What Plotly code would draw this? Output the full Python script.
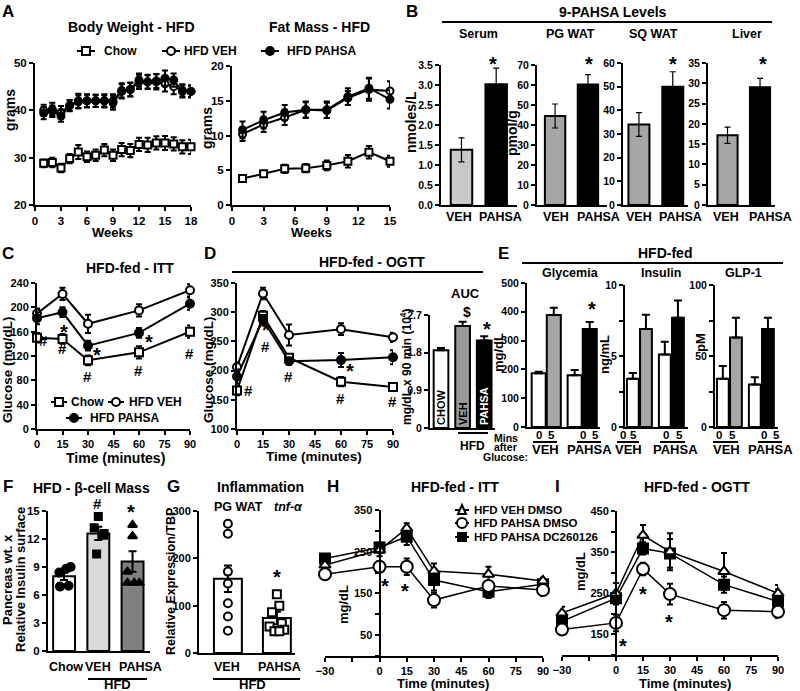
import plotly.graph_objects as go

# ---------------- A: body weight / fat mass ----------------
bw_weeks = [1, 2, 3, 4, 5, 6, 7, 8, 9, 10, 11, 12, 13, 14, 15, 16, 17, 18]
bw_chow = [28.8, 29.0, 27.8, 29.8, 31.2, 30.2, 30.5, 31.6, 30.5, 31.7, 31.5, 32.8, 32.7, 33.1, 33.1, 32.9, 32.3, 32.3]
bw_chow_err = [0.8, 1.0, 0.9, 1.0, 1.5, 1.1, 1.2, 1.3, 1.2, 1.4, 1.4, 1.4, 1.5, 1.4, 1.5, 1.4, 1.4, 1.5]
bw_veh = [40.0, 40.2, 39.6, 41.0, 42.0, 42.0, 42.0, 42.0, 41.6, 44.0, 44.4, 46.0, 46.0, 46.0, 45.6, 45.0, 44.2, 44.0]
bw_veh_err = [1.2, 1.4, 1.3, 1.2, 1.5, 1.4, 1.3, 1.4, 1.5, 1.5, 1.4, 1.5, 1.5, 1.6, 1.6, 1.6, 1.3, 1.3]
bw_pahsa = [39.4, 39.8, 38.8, 41.0, 41.8, 42.0, 42.0, 42.0, 42.0, 44.2, 44.4, 46.4, 46.0, 46.2, 46.8, 46.4, 44.0, 44.0]
bw_pahsa_err = [1.3, 1.2, 1.2, 1.1, 1.4, 1.3, 1.3, 1.2, 1.4, 1.5, 1.5, 1.4, 1.4, 1.5, 1.6, 1.4, 1.3, 1.2]

fm_weeks = [1, 3, 5, 7, 9, 11, 13, 15]
fm_chow = [3.8, 4.5, 5.2, 5.3, 5.7, 6.3, 7.6, 6.3]
fm_chow_err = [0.3, 0.4, 0.6, 0.6, 0.7, 0.9, 0.9, 0.8]
fm_veh = [10.2, 11.6, 12.6, 13.7, 13.6, 15.4, 16.6, 16.4]
fm_veh_err = [1.0, 1.1, 1.1, 1.1, 1.1, 1.0, 1.6, 1.4]
fm_pahsa = [10.8, 12.2, 13.3, 13.7, 13.7, 15.6, 16.8, 15.2]
fm_pahsa_err = [1.2, 1.2, 1.1, 1.2, 1.2, 1.2, 1.5, 1.3]

# ---------------- B: 9-PAHSA levels ----------------
b_groups = ['VEH', 'PAHSA']
serum = [1.38, 3.02]
serum_err = [0.3, 0.4]
pgwat = [44.5, 60.2]
pgwat_err = [6.0, 5.0]
sqwat = [34.0, 50.0]
sqwat_err = [5.0, 6.3]
liver = [17.2, 29.0]
liver_err = [2.0, 2.2]

# ---------------- C: ITT ----------------
itt_time = [0, 15, 30, 60, 90]
itt_chow = [150, 148, 113, 126, 160]
itt_chow_err = [8, 8, 8, 10, 10]
itt_veh = [190, 222, 173, 195, 228]
itt_veh_err = [8, 10, 15, 10, 10]
itt_pahsa = [182, 192, 137, 158, 206]
itt_pahsa_err = [10, 8, 8, 8, 10]

# ---------------- D: OGTT + AUC ----------------
ogtt_time = [0, 15, 30, 60, 90]
ogtt_chow = [166, 294, 222, 181, 172]
ogtt_chow_err = [8, 8, 6, 8, 6]
ogtt_veh = [206, 332, 261, 271, 257]
ogtt_veh_err = [8, 10, 18, 10, 8]
ogtt_pahsa = [190, 287, 216, 218, 223]
ogtt_pahsa_err = [12, 8, 6, 12, 12]
auc_groups = ['CHOW', 'VEH', 'PAHSA']
auc = [1.86, 2.44, 2.09]
auc_err = [0.05, 0.1, 0.1]

# ---------------- E: HFD-fed hormones ----------------
e_groups = ['VEH', 'PAHSA']
e_mins = ['0', '5']
glyc_0 = [187, 180]
glyc_0_err = [5, 18]
glyc_5 = [389, 340]
glyc_5_err = [25, 25]
ins_0 = [3.4, 5.1]
ins_0_err = [0.4, 0.9]
ins_5 = [6.9, 7.7]
ins_5_err = [1.0, 1.2]
glp_0 = [34, 30]
glp_0_err = [9, 5]
glp_5 = [63, 69]
glp_5_err = [14, 8]

# ---------------- F: beta-cell mass ----------------
f_groups = ['Chow', 'VEH', 'PAHSA']
f_mean = [8.0, 12.6, 9.6]
f_err = [0.4, 0.7, 1.1]
f_chow_pts = [8.4, 8.8, 9.0, 6.9, 7.0]
f_veh_pts = [14.4, 13.2, 12.6, 12.4, 10.4]
f_pahsa_pts = [13.5, 12.3, 8.5, 7.3, 7.3, 7.3]

# ---------------- G: inflammation ----------------
g_groups = ['VEH', 'PAHSA']
g_mean = [157, 74]
g_err = [28, 13]
g_veh_pts = [273, 252, 172, 147, 105, 77, 47]
g_pahsa_pts = [124, 100, 86, 63, 56, 49, 46, 46]

# ---------------- H / I: ITT / OGTT with DC260126 ----------------
hi_time = [-30, 0, 15, 30, 60, 90]
hi_ticks = [-30, 0, 15, 30, 45, 60, 75, 90]
h_veh = [218, 254, 306, 204, 196, 180]
h_veh_err = [12, 15, 12, 18, 18, 8]
h_pahsa = [196, 214, 214, 134, 168, 158]
h_pahsa_err = [10, 12, 20, 18, 12, 14]
h_dc = [234, 260, 286, 182, 154, 172]
h_dc_err = [10, 12, 20, 25, 15, 10]
i_veh = [202, 250, 391, 351, 303, 250]
i_veh_err = [15, 25, 25, 45, 45, 20]
i_pahsa = [162, 178, 309, 248, 209, 205]
i_pahsa_err = [12, 20, 15, 25, 20, 15]
i_dc = [182, 238, 359, 347, 271, 230]
i_dc_err = [15, 15, 15, 35, 20, 30]

W, H = 800, 691
FONT = 'Liberation Sans, Arial, sans-serif'

fig = go.Figure()
lay = {}
ann = []
shp = []
count = [0]


def tf(size):
    return dict(family=FONT, size=size, color='black', weight='bold')


def minor(dtick, tick0=0):
    return dict(dtick=dtick, tick0=tick0, ticks='outside', ticklen=4, tickwidth=2,
                tickcolor='black', showgrid=False)


def new_axes(x0, x1, y0, y1, xr, yr, xkw=None, ykw=None, fs=11.5):
    count[0] += 1
    s = '' if count[0] == 1 else str(count[0])
    base = dict(showline=True, linewidth=2, linecolor='black', ticks='outside',
                ticklen=4, tickwidth=2, tickcolor='black', showgrid=False,
                zeroline=False, fixedrange=True, tickfont=tf(fs),
                automargin=False, tickangle=0)
    xa = dict(base, domain=[x0 / W, x1 / W], range=xr, anchor='y' + s)
    ya = dict(base, domain=[1 - y1 / H, 1 - y0 / H], range=yr, anchor='x' + s)
    xa.update(xkw or {})
    ya.update(ykw or {})
    lay['xaxis' + s] = xa
    lay['yaxis' + s] = ya
    return 'x' + s, 'y' + s


def txt(s, x, y, size=12, angle=0, xanchor='center', italic=False, color='black'):
    f = tf(size)
    f['color'] = color
    if italic:
        f['style'] = 'italic'
    ann.append(dict(text=s, x=x / W, y=1 - y / H, xref='paper', yref='paper',
                    showarrow=False, textangle=angle, xanchor=xanchor,
                    yanchor='middle', font=f))


def star(x, y, size=20):
    txt('*', x, y + 4, size)


def hline(x0, x1, y, w=2):
    shp.append(dict(type='line', xref='paper', yref='paper', x0=x0 / W, x1=x1 / W,
                    y0=1 - y / H, y1=1 - y / H, line=dict(color='black', width=w)))


def glyph(xc, y, kind, fill, half=9, r=4):
    hline(xc - half, xc + half, y)
    x0, x1 = (xc - r) / W, (xc + r) / W
    y0, y1 = 1 - (y + r) / H, 1 - (y - r) / H
    if kind == 'triangle':
        path = 'M %f,%f L %f,%f L %f,%f Z' % (x0, y0, x1, y0, xc / W, 1 - (y - r - 1) / H)
        shp.append(dict(type='path', xref='paper', yref='paper', path=path,
                        fillcolor=fill, line=dict(color='black', width=2)))
    else:
        shp.append(dict(type='rect' if kind == 'square' else 'circle', xref='paper',
                        yref='paper', x0=x0, x1=x1, y0=y0, y1=y1, fillcolor=fill,
                        line=dict(color='black', width=2)))


def series(x, y, err, ax, symbol, fill, size=8, lw=2):
    fig.add_trace(go.Scatter(
        x=x, y=y, xaxis=ax[0], yaxis=ax[1], mode='lines+markers',
        line=dict(color='black', width=lw),
        marker=dict(symbol=symbol, size=size, color=fill, line=dict(color='black', width=2)),
        error_y=dict(type='data', array=err, color='black', thickness=2, width=3),
        cliponaxis=False, hoverinfo='skip', showlegend=False))


def bars(x, y, err, ax, color, width, offset=None, up_only=False, thick=2, ew=4, text=None):
    ey = dict(type='data', array=err, color='black', thickness=thick, width=ew)
    if up_only:
        ey.update(symmetric=False, arrayminus=[0 for _ in err])
    kw = {}
    if text is not None:
        kw = dict(text=text, textposition='inside', textangle=-90, insidetextanchor='start',
                  constraintext='none',
                  insidetextfont=dict(family=FONT, size=11, weight='bold',
                                      color=['black', 'black', 'white']))
    fig.add_trace(go.Bar(x=x, y=y, xaxis=ax[0], yaxis=ax[1], width=width, offset=offset,
                         marker=dict(color=color, line=dict(color='black', width=2)),
                         error_y=ey, hoverinfo='skip', showlegend=False, cliponaxis=False, **kw))


def dots(x, y, ax, symbol, fill, size=8):
    fig.add_trace(go.Scatter(x=x, y=y, xaxis=ax[0], yaxis=ax[1], mode='markers',
                             marker=dict(symbol=symbol, size=size, color=fill,
                                         line=dict(color='black', width=2)),
                             cliponaxis=False, hoverinfo='skip', showlegend=False))


# ===== A =====
txt('A', 8, 11, 17)
ax = new_axes(35, 191, 63, 205, [0, 18], [20, 50], dict(dtick=3, tick0=0), dict(dtick=10))
series(bw_weeks, bw_chow, bw_chow_err, ax, 'square', 'white', 7)
series(bw_weeks, bw_veh, bw_veh_err, ax, 'circle', 'white', 7)
series(bw_weeks, bw_pahsa, bw_pahsa_err, ax, 'circle', 'black', 7)
txt('Body Weight - HFD', 131, 27, 14)
txt('grams', 10, 110, 14, -90)
txt('Weeks', 113, 232, 13)

ax = new_axes(232, 390, 66, 205, [0, 15], [0, 20], dict(dtick=3, tick0=0), dict(dtick=5))
series(fm_weeks, fm_chow, fm_chow_err, ax, 'square', 'white', 7)
series(fm_weeks, fm_veh, fm_veh_err, ax, 'circle', 'white', 7)
series(fm_weeks, fm_pahsa, fm_pahsa_err, ax, 'circle', 'black', 7)
txt('Fat Mass - HFD', 319, 27, 14)
txt('grams', 207, 128, 14, -90)
txt('Weeks', 311, 232, 13)

glyph(86, 51, 'square', 'white')
txt('Chow', 102, 51, 12, xanchor='left')
glyph(171, 51, 'circle', 'white')
txt('HFD VEH', 182, 51, 12, xanchor='left')
glyph(270, 51, 'circle', 'black')
txt('HFD PAHSA', 285, 51, 12, xanchor='left')

# ===== B =====
txt('B', 412, 11, 17)
txt('9-PAHSA Levels', 613, 12, 14)
hline(442, 772, 22)
bx = dict(type='category', ticks='', showticklabels=False)
ax = new_axes(441, 517, 65, 205, [-0.59, 1.6], [0, 3.5], bx, dict(dtick=0.5, tickformat='.1f'), 10.5)
bars(b_groups, serum, serum_err, ax, ['#c8c8c8', 'black'], 0.62, thick=1.2, ew=3)
ax = new_axes(537, 607, 65, 205, [-0.55, 1.58], [0, 70], bx, dict(dtick=10), 10.5)
bars(b_groups, pgwat, pgwat_err, ax, ['#a5a5a5', 'black'], 0.62, thick=1.2, ew=3)
ax = new_axes(623, 688, 63, 205, [-0.47, 1.45], [0, 60], bx, dict(dtick=10), 10.5)
bars(b_groups, sqwat, sqwat_err, ax, ['#a5a5a5', 'black'], 0.62, thick=1.2, ew=3)
ax = new_axes(708, 775, 63, 205, [-0.6, 1.46], [0, 35], bx, dict(dtick=5), 10.5)
bars(b_groups, liver, liver_err, ax, ['#a5a5a5', 'black'], 0.62, thick=1.2, ew=3)
for xv, xp in [(459, 500), (556, 598), (639, 680), (726, 770)]:
    txt(b_groups[0], xv, 217, 12.5)
    txt(b_groups[1], xp, 217, 12.5)
for name, xc in [('Serum', 478), ('PG WAT', 570), ('SQ WAT', 653), ('Liver', 747)]:
    txt(name, xc, 34, 12.5)
for xc in [493, 589, 673, 763]:
    star(xc, 60)
txt('nmoles/L', 411, 122, 14, -90)
txt('pmol/g', 512, 133, 14, -90)

# ===== C =====
txt('C', 8, 254, 17)
ax = new_axes(37, 190, 283, 429, [0, 90], [0, 240], dict(dtick=15, tick0=0), dict(dtick=40), 11)
series(itt_time, itt_chow, itt_chow_err, ax, 'square', 'white', 8)
series(itt_time, itt_veh, itt_veh_err, ax, 'circle', 'white', 8)
series(itt_time, itt_pahsa, itt_pahsa_err, ax, 'circle', 'black', 8)
txt('HFD-fed - ITT', 130, 268, 14)
txt('Glucose (mg/dL)', 7, 370, 13.5, -90)
txt('Time (minutes)', 116, 458, 14)
for xc, yc in [(43, 340), (62, 348), (87, 376), (138, 370), (189, 353)]:
    txt('#', xc, yc, 15)
for xc, yc in [(64, 328), (97, 351), (149, 338)]:
    star(xc, yc)
glyph(59, 402, 'square', 'white', half=8)
txt('Chow', 69, 402, 12, xanchor='left')
glyph(116, 402, 'circle', 'white', half=8)
txt('HFD VEH', 127, 402, 12, xanchor='left')
glyph(74, 418, 'circle', 'black', half=8)
txt('HFD PAHSA', 88, 418, 12, xanchor='left')

# ===== D =====
txt('D', 210, 254, 17)
txt('HFD-fed - OGTT', 372, 262, 14)
hline(232, 483, 272)
ax = new_axes(237, 393, 283, 429, [0, 90], [100, 350], dict(dtick=15, tick0=0), dict(dtick=50), 11)
series(ogtt_time, ogtt_chow, ogtt_chow_err, ax, 'square', 'white', 8)
series(ogtt_time, ogtt_veh, ogtt_veh_err, ax, 'circle', 'white', 8)
series(ogtt_time, ogtt_pahsa, ogtt_pahsa_err, ax, 'circle', 'black', 8)
txt('Glucose (mg/dL)', 208, 370, 13.5, -90)
txt('Time (minutes)', 314, 457, 13.5)
for xc, yc in [(248, 390), (265, 346), (288, 377), (340, 398), (392, 402)]:
    txt('#', xc, yc, 15)
for xc, yc in [(266, 326), (350, 367)]:
    star(xc, yc)

ax = new_axes(430, 495, 315, 428, [-0.51, 2.5], [0, 2.7],
              dict(type='category', ticks='', showticklabels=False),
              dict(tickvals=[0, 0.9, 1.8, 2.7], ticktext=['0', '0.9', '1.8', '2.7']), 10.5)
bars(auc_groups, auc, auc_err, ax, ['white', '#999999', 'black'], 0.68, up_only=True,
     text=auc_groups)
txt('AUC', 465, 294, 13)
txt('$', 467, 312, 14)
star(487, 325)
txt('mg/dL x 90 min (10<sup>4</sup>)', 406, 367, 12, -90)
hline(458, 488, 433)
txt('HFD', 472, 446, 12)

# ===== E =====
txt('E', 503, 254, 17)
txt('HFD-fed', 665, 253, 14)
hline(522, 783, 263)
for name, xc in [('Glycemia', 570), ('Insulin', 661), ('GLP-1', 743)]:
    txt(name, xc, 273, 12.5)
ex = dict(type='category', ticks='', showticklabels=False)
panels_e = [
    ((527, 600, 283, 427, [-0.54, 1.49], [0, 500]), dict(dtick=100),
     glyc_0, glyc_0_err, glyc_5, glyc_5_err, 0.39, -0.41, 0.01),
    ((625, 688, 285, 427, [-0.45, 1.52], [0, 10]), dict(dtick=5, minor=minor(2.5)),
     ins_0, ins_0_err, ins_5, ins_5_err, 0.37, -0.39, 0.02),
    ((715, 778, 285, 427, [-0.45, 1.52], [0, 100]), dict(dtick=50, minor=minor(25)),
     glp_0, glp_0_err, glp_5, glp_5_err, 0.37, -0.39, 0.02),
]
for box, ykw, v0, e0, v5, e5, bw, o0, o5 in panels_e:
    ax = new_axes(*box, ex, ykw, 10.5)
    bars(e_groups, v0, e0, ax, 'white', bw, offset=o0, up_only=True)
    bars(e_groups, v5, e5, ax, ['#a6a6a6', 'black'], bw, offset=o5, up_only=True)
# group labels under E sub-panels (paper positions of each group block)
for gx in [(533, 557), (577, 601), (617, 639), (660, 685), (713, 738), (758, 782)]:
    x0, x1 = gx
    hline(x0, x1, 442)
    txt(e_mins[0], x0 + 6, 435, 11.5)
    txt(e_mins[1], x1 - 6, 435, 11.5)
for k, xc in enumerate([545, 589, 628, 675, 726, 770]):
    txt(e_groups[k % 2], xc, 449, 13)
star(592, 305)
txt('mg/dL', 498, 353, 13, -90)
txt('ng/mL', 604, 355, 13, -90)
txt('pM', 700, 343, 13, -90)
txt('Mins', 506, 438, 10.5)
txt('after', 506, 447, 10.5)
txt('Glucose:', 505, 457, 10.5)

# ===== F =====
txt('F', 8, 487, 17)
txt('HFD - β-cell Mass', 91, 488, 14)
ax = new_axes(48, 150, 511, 651, [-0.47, 2.51], [0, 15],
              dict(ticks='', showticklabels=False), dict(dtick=3))
bars([0, 1, 2], f_mean, f_err, ax, ['white', '#d9d9d9', '#808080'], 0.64)
dots([0 + d for d in [-0.14, 0.06, 0.19, -0.12, 0.13]], f_chow_pts, ax, 'circle', 'black', 8)
dots([1 + d for d in [0.0, -0.12, 0.17, 0.15, -0.05]], f_veh_pts, ax, 'square', 'black', 7)
dots([2 + d for d in [0.0, 0.0, -0.15, -0.15, 0.05, 0.2]], f_pahsa_pts, ax, 'triangle-up', 'black', 8)
for name, xc in zip(f_groups, [66, 98, 140]):
    txt(name, xc, 667, 12.5)
txt('#', 97, 503, 15)
star(131, 508)
txt('Pancreas wt. x', 7, 580, 13, -90)
txt('Relative Insulin surface', 20, 580, 13, -90)
hline(88, 147, 679)
txt('HFD', 117, 684, 13)

# ===== G =====
txt('G', 173, 487, 17)
txt('Inflammation', 260, 487, 14)
txt('PG WAT', 238, 507, 12.5)
txt('tnf-α', 288, 507, 12.5, italic=True)
ax = new_axes(199, 295, 511, 653, [-0.59, 1.37], [0, 300],
              dict(ticks='', showticklabels=False), dict(dtick=100), 11)
bars([0, 1], g_mean, g_err, ax, 'white', 0.57)
dots([0 for _ in g_veh_pts], g_veh_pts, ax, 'circle', 'white', 8)
dots([1 + d for d in [0.0, 0.05, -0.1, 0.1, -0.15, 0.15, -0.05, 0.05]], g_pahsa_pts, ax, 'square', 'white', 8)
for name, xc in zip(g_groups, [227, 279]):
    txt(name, xc, 667, 12.5)
star(277, 573)
txt('Relative Expression/TBP', 171, 582, 12.5, -90)
hline(213, 300, 679)
txt('HFD', 252, 684, 13)

# ===== H =====
txt('H', 333, 487, 17)
txt('HFD-fed - ITT', 455, 487, 14)
ax = new_axes(325, 543, 510, 656, [-30, 90], [0, 350],
              dict(tickvals=hi_ticks, minor=minor(15, -30)),
              dict(anchor='free', position=379.5 / W, tickvals=[50, 150, 250, 350], minor=minor(50)), 11)
series(hi_time, h_dc, h_dc_err, ax, 'square', 'black', 10, 1.5)
series(hi_time, h_veh, h_veh_err, ax, 'triangle-up', 'white', 10, 1.5)
series(hi_time, h_pahsa, h_pahsa_err, ax, 'circle', 'white', 12, 1.5)
for xc, yc in [(385, 582), (405, 587)]:
    star(xc, yc)
txt('mg/dL', 343, 605, 13, -90)
txt('Time (minutes)', 443, 683, 13)
glyph(462, 510, 'triangle', 'white', half=7)
txt('HFD VEH DMSO', 472, 510, 11.5, xanchor='left')
glyph(462, 523, 'circle', 'white', half=7, r=5)
txt('HFD PAHSA DMSO', 472, 523, 11.5, xanchor='left')
glyph(462, 537, 'square', 'black', half=7)
txt('HFD PAHSA DC260126', 472, 537, 11.5, xanchor='left')

# ===== I =====
txt('I', 557, 487, 17)
txt('HFD-fed - OGTT', 697, 487, 14)
ax = new_axes(562, 778, 511, 655, [-30, 90], [100, 450],
              dict(tickvals=hi_ticks, minor=minor(15, -30)),
              dict(anchor='free', position=616 / W, tickvals=[150, 250, 350, 450], minor=minor(50)), 11)
series(hi_time, i_dc, i_dc_err, ax, 'square', 'black', 10, 1.5)
series(hi_time, i_veh, i_veh_err, ax, 'triangle-up', 'white', 10, 1.5)
series(hi_time, i_pahsa, i_pahsa_err, ax, 'circle', 'white', 12, 1.5)
for xc, yc in [(623, 642), (643, 590), (669, 618)]:
    star(xc, yc)
txt('mg/dL', 580, 572, 13, -90)
txt('Time (minutes)', 685, 683, 13)

fig.update_layout(
    width=W, height=H, margin=dict(l=0, r=0, t=0, b=0, autoexpand=False),
    paper_bgcolor='white', plot_bgcolor='white', showlegend=False,
    barmode='group', font=dict(family=FONT, color='black'),
    annotations=ann, shapes=shp, **lay)

fig.write_html('out.html', config={'displayModeBar': False},
               post_script="document.body.style.margin='0';")
